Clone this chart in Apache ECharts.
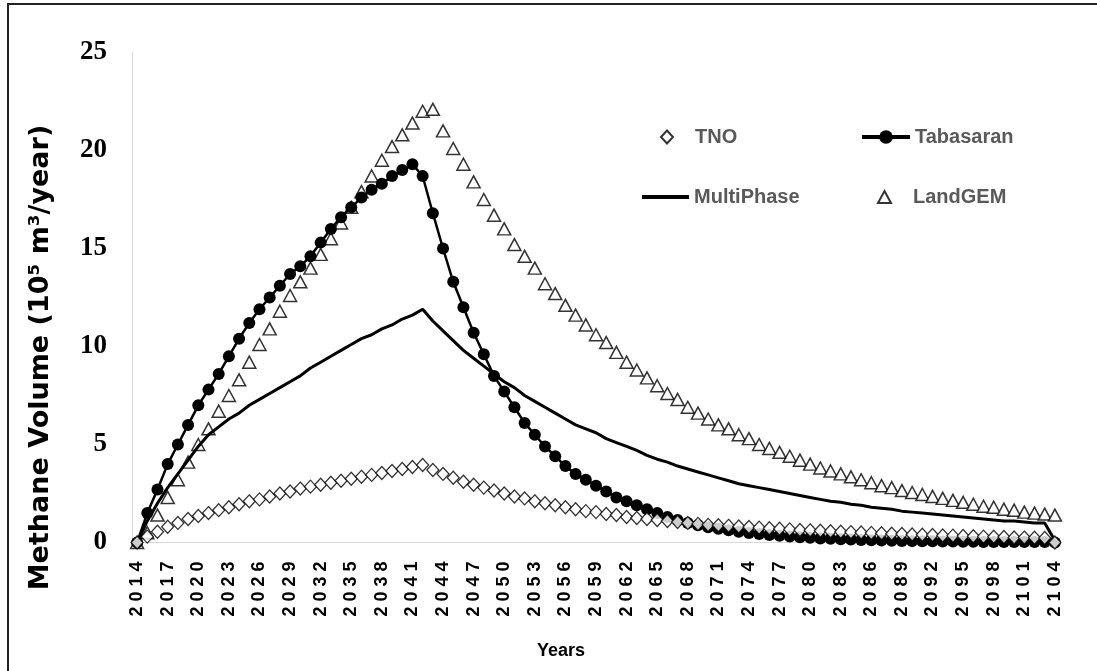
<!DOCTYPE html>
<html>
<head>
<meta charset="utf-8">
<title>Methane Volume</title>
<script src="https://cdn.jsdelivr.net/npm/echarts@6/dist/echarts.min.js"></script>
<style>
  html, body { margin: 0; padding: 0; background: #fff; }
  #chart { width: 1097px; height: 671px; }
</style>
</head>
<body>
<div id="chart"></div>
<script>
// years 2014 .. 2104 (category axis)
var years = [];
for (var y = 2014; y <= 2104; y++) years.push(String(y));

// values, 10^5 m3/year, one per year from 2014
var tno = [
  0, 0.3, 0.55, 0.8, 1.0, 1.2, 1.35, 1.5, 1.65, 1.8,
  1.95, 2.1, 2.2, 2.35, 2.5, 2.6, 2.75, 2.85, 2.95, 3.05,
  3.15, 3.25, 3.35, 3.45, 3.55, 3.65, 3.75, 3.85, 3.95, 3.7,
  3.5, 3.3, 3.1, 2.95, 2.8, 2.65, 2.5, 2.35, 2.25, 2.1,
  2.0, 1.9, 1.8, 1.7, 1.6, 1.55, 1.45, 1.4, 1.3, 1.25,
  1.2, 1.15, 1.1, 1.05, 1.0, 0.95, 0.9, 0.88, 0.85, 0.82,
  0.79, 0.76, 0.73, 0.7, 0.67, 0.64, 0.62, 0.6, 0.57, 0.55,
  0.53, 0.51, 0.49, 0.47, 0.45, 0.43, 0.41, 0.4, 0.38, 0.36,
  0.35, 0.33, 0.32, 0.3, 0.29, 0.28, 0.26, 0.25, 0.24, 0.23,
  0
];
var tabasaran = [
  0, 1.5, 2.7, 4.0, 5.0, 6.0, 7.0, 7.8, 8.6, 9.5,
  10.4, 11.2, 11.9, 12.5, 13.1, 13.7, 14.1, 14.6, 15.3, 16.0,
  16.6, 17.1, 17.6, 18.0, 18.3, 18.7, 19.0, 19.3, 18.7, 16.8,
  15.0, 13.3, 12.0, 10.7, 9.6, 8.5, 7.7, 6.9, 6.1, 5.5,
  4.9, 4.4, 3.9, 3.5, 3.2, 2.9, 2.6, 2.3, 2.1, 1.9,
  1.7, 1.5, 1.3, 1.15, 1.0, 0.88, 0.78, 0.7, 0.62, 0.55,
  0.49, 0.43, 0.38, 0.34, 0.3, 0.27, 0.24, 0.21, 0.19, 0.17,
  0.15, 0.13, 0.12, 0.1, 0.09, 0.08, 0.07, 0.06, 0.06, 0.05,
  0.05, 0.04, 0.04, 0.03, 0.03, 0.03, 0.02, 0.02, 0.02, 0.02,
  0
];
var multiPhase = [
  0, 1.1, 2.0, 2.8, 3.5, 4.2, 4.9, 5.5, 5.9, 6.3,
  6.6, 7.0, 7.3, 7.6, 7.9, 8.2, 8.5, 8.9, 9.2, 9.5,
  9.8, 10.1, 10.4, 10.6, 10.9, 11.1, 11.4, 11.6, 11.9, 11.3,
  10.8, 10.3, 9.8, 9.4, 9.0, 8.6, 8.2, 7.9, 7.5, 7.2,
  6.9, 6.6, 6.3, 6.0, 5.8, 5.6, 5.3, 5.1, 4.9, 4.7,
  4.45, 4.25, 4.1, 3.9, 3.75, 3.6, 3.45, 3.3, 3.15, 3.0,
  2.9, 2.8, 2.7, 2.6, 2.5, 2.4, 2.3, 2.2, 2.1, 2.05,
  1.95, 1.9, 1.8, 1.75, 1.7, 1.6, 1.55, 1.5, 1.45, 1.4,
  1.35, 1.3, 1.25, 1.2, 1.15, 1.1, 1.1, 1.05, 1.0, 1.0,
  0.1
];
var landGEM = [
  0, 0.5, 1.4, 2.3, 3.2, 4.1, 5.0, 5.8, 6.7, 7.5,
  8.3, 9.2, 10.1, 10.9, 11.8, 12.6, 13.3, 14.0, 14.7, 15.5,
  16.3, 17.1, 17.9, 18.7, 19.5, 20.2, 20.8, 21.4, 22.0, 22.1,
  21.0, 20.1, 19.3, 18.4, 17.5, 16.7, 16.0, 15.2, 14.6, 14.0,
  13.2, 12.7, 12.1, 11.6, 11.1, 10.6, 10.2, 9.7, 9.2, 8.8,
  8.4, 8.0, 7.6, 7.3, 6.9, 6.6, 6.3, 6.0, 5.8, 5.5,
  5.3, 5.0, 4.8, 4.6, 4.4, 4.2, 4.0, 3.8, 3.65, 3.5,
  3.35, 3.2, 3.05, 2.9, 2.8, 2.65, 2.55, 2.45, 2.35, 2.25,
  2.15, 2.05, 1.95, 1.85, 1.8, 1.7, 1.65, 1.55, 1.5, 1.45,
  1.4
];

var yTicks = { min: 0, max: 25, step: 5 };

function legendText(padLeft) {
  return {
    fontFamily: 'Liberation Sans', fontWeight: 'bold', fontSize: 20,
    color: '#595959', lineHeight: 20, padding: [0, 0, 0, padLeft]
  };
}

var myChart = echarts.init(document.getElementById('chart'), null, { renderer: 'canvas' });

var option = {
  animation: false,
  backgroundColor: '#fff',
  grid: { left: 132, right: 37, top: 52.5, bottom: 128.5 },
  graphic: [{
    type: 'rect', silent: true, z: 0,
    shape: { x: 8, y: 4, width: 1200, height: 800 },
    style: { fill: 'none', stroke: '#222', lineWidth: 2 }
  }],
  legend: [
    { left: 660, top: 127, padding: 0, itemWidth: 12, itemHeight: 13,
      data: [{ name: 'TNO', icon: 'diamond' }], textStyle: legendText(17) },
    { left: 860, top: 127, padding: 0, itemWidth: 48, itemHeight: 17,
      lineStyle: { width: 4 },
      data: [{ name: 'Tabasaran' }], textStyle: legendText(0) },
    { left: 642, top: 187, padding: 0, itemWidth: 47, itemHeight: 4,
      data: [{ name: 'MultiPhase', icon: 'rect' }], textStyle: legendText(0) },
    { left: 877, top: 187, padding: 0, itemWidth: 13, itemHeight: 12,
      data: [{ name: 'LandGEM', icon: 'triangle' }], textStyle: legendText(17) }
  ],
  xAxis: {
    type: 'category',
    data: years,
    boundaryGap: true,
    axisLine: { lineStyle: { color: '#d9d9d9', width: 1 } },
    axisTick: { show: false },
    splitLine: { show: false },
    axisLabel: {
      interval: 2, rotate: 90, margin: 19,
      fontFamily: 'Liberation Sans', fontWeight: 'bold', fontSize: 18, color: '#000',
      formatter: function (v) { return v.split('').join(' '); }
    },
    name: 'Years',
    nameLocation: 'middle',
    nameGap: 100,
    nameTextStyle: {
      fontFamily: 'Liberation Sans', fontWeight: 'bold', fontSize: 18, color: '#000',
      padding: [0, 70, 0, 0]
    }
  },
  yAxis: {
    type: 'value',
    min: yTicks.min, max: yTicks.max, interval: yTicks.step,
    axisLine: { show: true, lineStyle: { color: '#d9d9d9', width: 1 } },
    axisTick: { show: false },
    splitLine: { show: false },
    axisLabel: {
      margin: 25,
      fontFamily: 'Liberation Serif', fontWeight: 'bold', fontSize: 27, color: '#000'
    },
    name: 'Methane Volume (10\u2075 m\u00b3/year)',
    nameLocation: 'middle',
    nameRotate: 90,
    nameGap: 78,
    nameTextStyle: {
      fontFamily: 'DejaVu Sans', fontWeight: 'bold', fontSize: 27, color: '#000',
      padding: [0, 120, 0, 0]
    }
  },
  series: [
    {
      name: 'LandGEM', type: 'scatter', data: landGEM, z: 2,
      symbol: 'triangle', symbolSize: [13, 12],
      itemStyle: { color: '#fff', borderColor: '#000', borderWidth: 1.5 }
    },
    {
      name: 'MultiPhase', type: 'line', data: multiPhase, z: 3,
      symbol: 'none',
      lineStyle: { color: '#000', width: 3 },
      itemStyle: { color: '#000' }
    },
    {
      name: 'Tabasaran', type: 'line', data: tabasaran, z: 4,
      symbol: 'circle', symbolSize: 12, showAllSymbol: true,
      lineStyle: { color: '#000', width: 2.5 },
      itemStyle: { color: '#000' }
    },
    {
      name: 'TNO', type: 'scatter', data: tno, z: 5,
      symbol: 'diamond', symbolSize: [12, 13],
      itemStyle: { color: '#fff', borderColor: '#000', borderWidth: 1.3 }
    }
  ]
};

myChart.setOption(option);
</script>
</body>
</html>
